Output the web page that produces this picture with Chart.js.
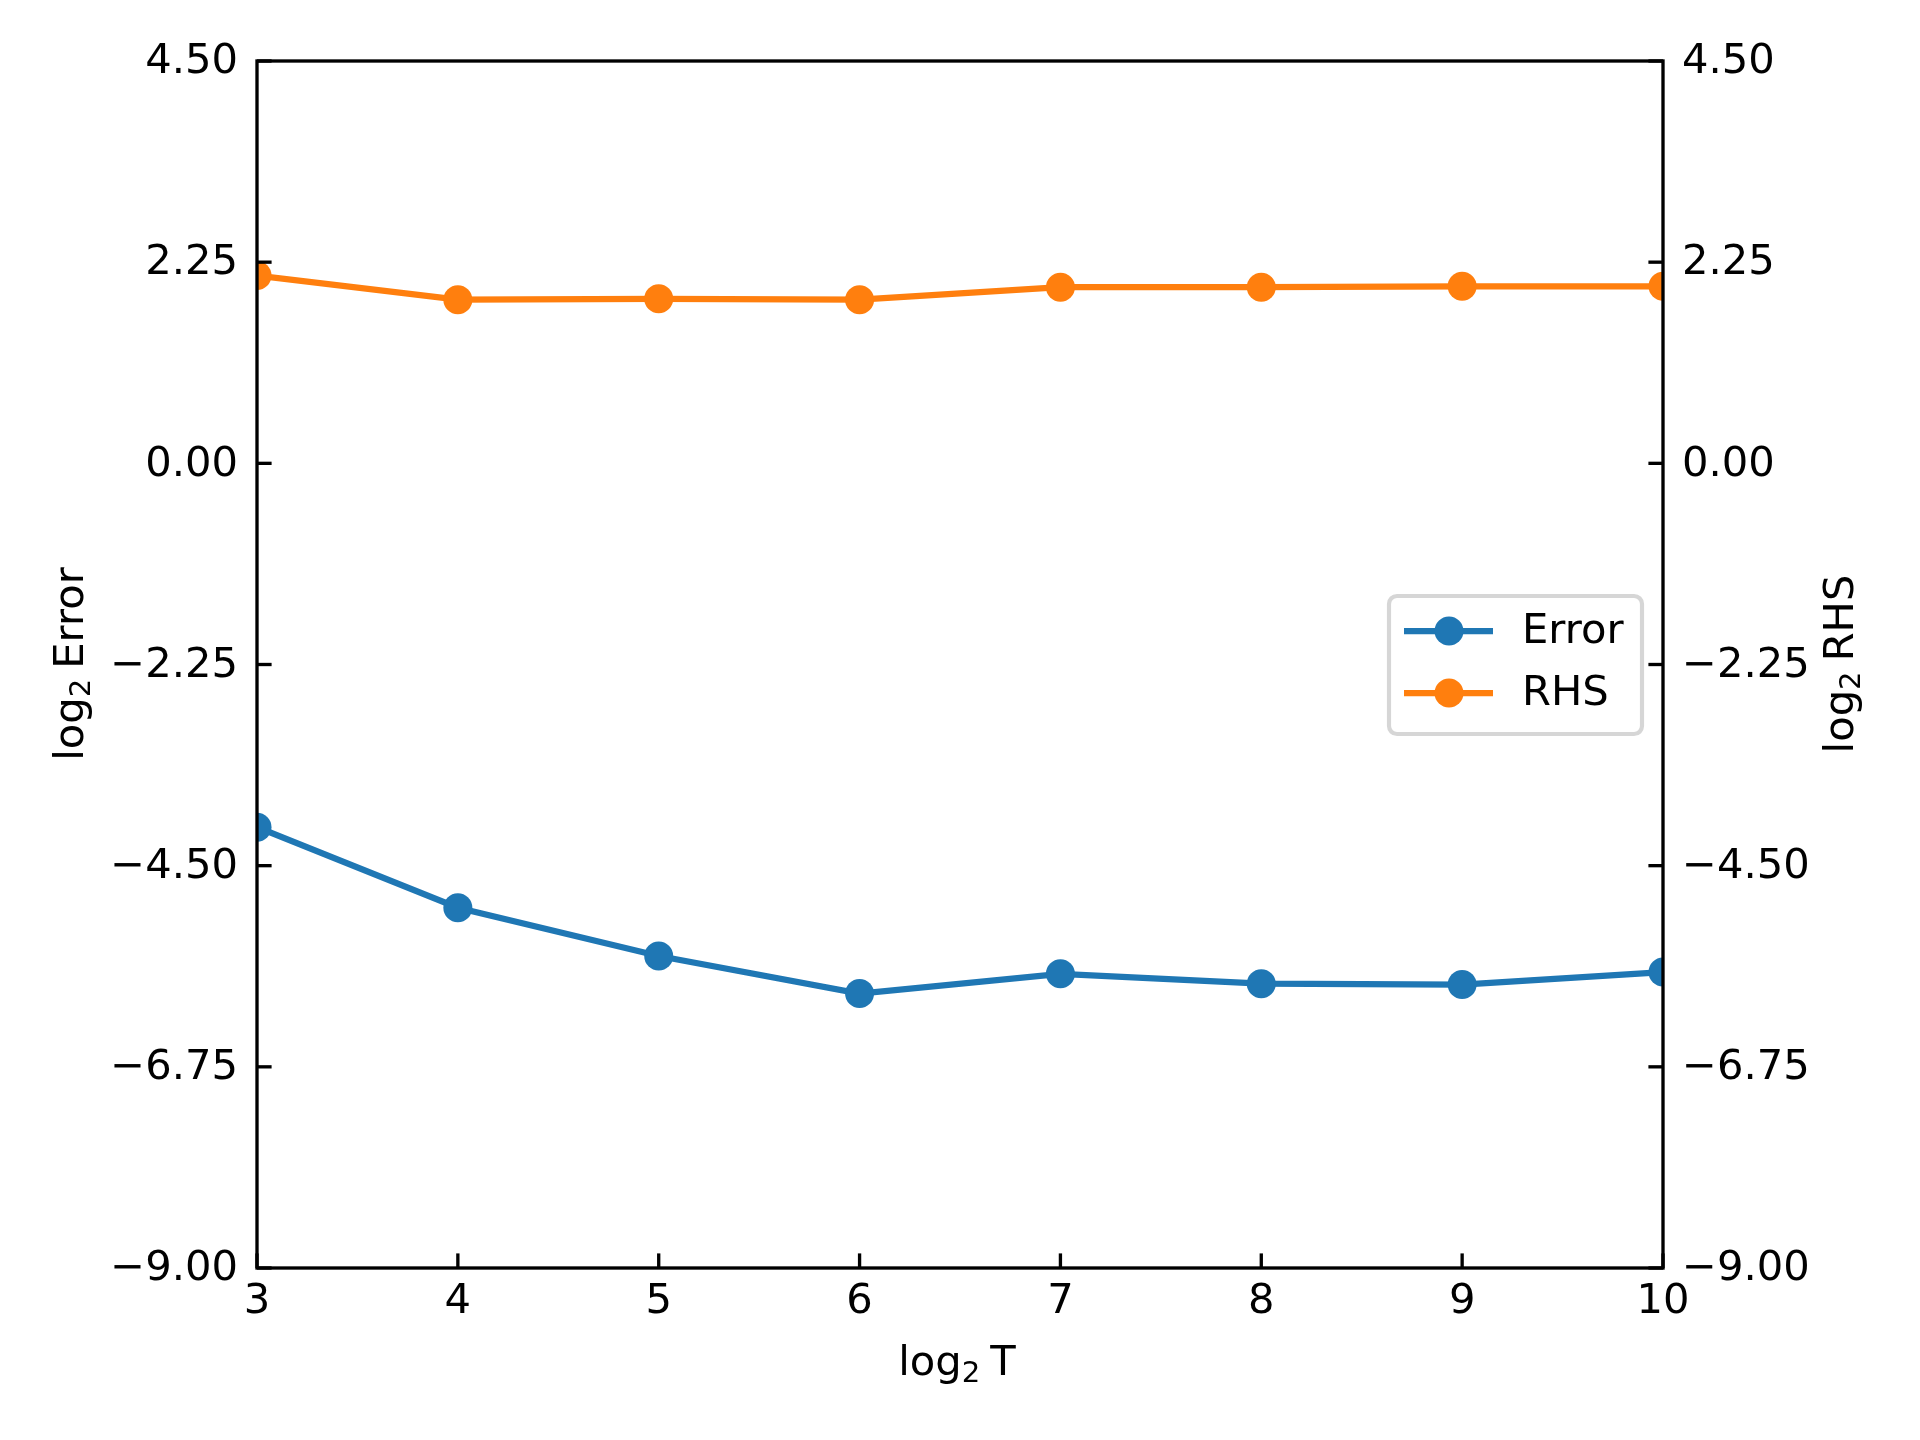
<!DOCTYPE html>
<html>
<head>
<meta charset="utf-8">
<script src="https://cdn.jsdelivr.net/npm/chart.js@4.4.1/dist/chart.umd.min.js"></script>
<style>
  html, body { margin: 0; padding: 0; background: #ffffff; }
  canvas { display: block; }
</style>
</head>
<body>
<canvas id="c" width="1920" height="1440"></canvas>
<script>
// ---- data ----
const xValues = [3, 4, 5, 6, 7, 8, 9, 10];
const errorValues = [-4.07, -4.97, -5.51, -5.93, -5.71, -5.82, -5.83, -5.69];
const rhsValues = [2.10, 1.83, 1.84, 1.83, 1.97, 1.97, 1.98, 1.98];
const yTickValues = [-9, -6.75, -4.5, -2.25, 0, 2.25, 4.5];
const xTickValues = [3, 4, 5, 6, 7, 8, 9, 10];
const seriesLabels = ['Error', 'RHS'];
const xTitleWord = 'T';
const yTitleWord = 'Error';
const y1TitleWord = 'RHS';

const BLUE = '#1f77b4';
const ORANGE = '#ff7f0e';
const FONT = 'DejaVu Sans';
const FS = 41.67;

function fmt(v) {
  const s = Math.abs(v).toFixed(2);
  return (v < 0 ? '\u2212' : '') + s;
}

const tickFont = { family: FONT, size: FS };

// draws "log₂ word" with a real lowered subscript, centred at (cx, baseline by)
function drawLog2(ctx, word, cx, by, rot) {
  ctx.save();
  ctx.translate(cx, by);
  ctx.rotate(rot);
  ctx.fillStyle = '#000';
  ctx.textBaseline = 'alphabetic';
  ctx.textAlign = 'left';
  const big = FS + 'px "' + FONT + '"';
  const small = (FS * 0.7) + 'px "' + FONT + '"';
  ctx.font = big;
  const w1 = ctx.measureText('log').width;
  const w3 = ctx.measureText(word).width;
  ctx.font = small;
  const w2 = ctx.measureText('2').width;
  const gap = 10;
  const total = w1 + w2 + gap + w3;
  let u = -total / 2;
  ctx.font = big;
  ctx.fillText('log', u, 0);
  u += w1;
  ctx.font = small;
  ctx.fillText('2', u, 7);
  u += w2 + gap;
  ctx.font = big;
  ctx.fillText(word, u, 0);
  ctx.restore();
}

const framePlugin = {
  id: 'frame',
  afterDraw(chart) {
    const { ctx, chartArea: a, scales } = chart;
    ctx.save();
    ctx.strokeStyle = '#000';
    ctx.lineWidth = 3.33;
    ctx.lineCap = 'butt';
    const tl = 14.6;
    for (const v of xTickValues) {
      const px = scales.x.getPixelForValue(v);
      ctx.beginPath(); ctx.moveTo(px, a.bottom); ctx.lineTo(px, a.bottom - tl); ctx.stroke();
    }
    for (const v of yTickValues) {
      const py = scales.y.getPixelForValue(v);
      ctx.beginPath(); ctx.moveTo(a.left, py); ctx.lineTo(a.left + tl, py); ctx.stroke();
      const py1 = scales.y1.getPixelForValue(v);
      ctx.beginPath(); ctx.moveTo(a.right, py1); ctx.lineTo(a.right - tl, py1); ctx.stroke();
    }
    ctx.lineJoin = 'miter';
    ctx.strokeRect(a.left, a.top, a.right - a.left, a.bottom - a.top);

    // axis titles
    const cy = (a.top + a.bottom) / 2 - 0.5;
    drawLog2(ctx, xTitleWord, (a.left + a.right) / 2 - 3, 1375, 0);
    drawLog2(ctx, yTitleWord, 83, cy, -Math.PI / 2);
    drawLog2(ctx, y1TitleWord, 1853, cy, -Math.PI / 2);

    // legend
    const lx = 1389, ly = 596, lw = 253, lh = 138, r = 8;
    ctx.beginPath();
    ctx.moveTo(lx + r, ly);
    ctx.lineTo(lx + lw - r, ly); ctx.arcTo(lx + lw, ly, lx + lw, ly + r, r);
    ctx.lineTo(lx + lw, ly + lh - r); ctx.arcTo(lx + lw, ly + lh, lx + lw - r, ly + lh, r);
    ctx.lineTo(lx + r, ly + lh); ctx.arcTo(lx, ly + lh, lx, ly + lh - r, r);
    ctx.lineTo(lx, ly + r); ctx.arcTo(lx, ly, lx + r, ly, r);
    ctx.closePath();
    ctx.fillStyle = 'rgba(255,255,255,0.8)';
    ctx.fill();
    ctx.strokeStyle = '#d6d6d6';
    ctx.lineWidth = 4.17;
    ctx.stroke();
    const rows = [631, 693];
    chart.data.datasets.forEach((ds, i) => {
      const ry = rows[i];
      ctx.strokeStyle = ds.borderColor;
      ctx.lineWidth = 6.25;
      ctx.beginPath(); ctx.moveTo(1404, ry); ctx.lineTo(1493, ry); ctx.stroke();
      ctx.fillStyle = ds.borderColor;
      ctx.beginPath(); ctx.arc(1449, ry, 14.5, 0, Math.PI * 2); ctx.fill();
      ctx.fillStyle = '#000';
      ctx.font = FS + 'px "' + FONT + '"';
      ctx.textAlign = 'left';
      ctx.textBaseline = 'middle';
      ctx.fillText(ds.label, 1522, ry + 1);
    });
    ctx.restore();
  }
};

new Chart(document.getElementById('c'), {
  type: 'line',
  data: {
    datasets: [
      {
        label: seriesLabels[0],
        data: xValues.map((x, i) => ({ x, y: errorValues[i] })),
        borderColor: BLUE, backgroundColor: BLUE,
        pointBackgroundColor: BLUE, pointBorderWidth: 0,
        pointRadius: 14.5, borderWidth: 6.25,
        yAxisID: 'y', clip: 0, tension: 0
      },
      {
        label: seriesLabels[1],
        data: xValues.map((x, i) => ({ x, y: rhsValues[i] })),
        borderColor: ORANGE, backgroundColor: ORANGE,
        pointBackgroundColor: ORANGE, pointBorderWidth: 0,
        pointRadius: 14.5, borderWidth: 6.25,
        yAxisID: 'y1', clip: 0, tension: 0
      }
    ]
  },
  options: {
    responsive: false,
    animation: false,
    devicePixelRatio: 1,
    layout: { padding: { top: 61, left: 0, right: 0, bottom: 0 } },
    plugins: { legend: { display: false }, tooltip: { enabled: false } },
    scales: {
      x: {
        type: 'linear', position: 'bottom', min: 3, max: 10,
        afterBuildTicks: s => { s.ticks = xTickValues.map(v => ({ value: v })); },
        afterFit: s => { s.height = 172; },
        grid: { display: false, drawTicks: false },
        border: { display: false },
        ticks: { color: '#000', font: tickFont, padding: 9, maxRotation: 0, autoSkip: false,
                 callback: v => String(v) }
      },
      y: {
        type: 'linear', position: 'left', min: -9, max: 4.5,
        afterBuildTicks: s => { s.ticks = yTickValues.map(v => ({ value: v })); },
        afterFit: s => { s.width = 257; },
        grid: { display: false, drawTicks: false },
        border: { display: false },
        ticks: { color: '#000', font: tickFont, padding: 19, autoSkip: false, labelOffset: 1.5,
                 callback: v => fmt(v) }
      },
      y1: {
        type: 'linear', position: 'right', min: -9, max: 4.5,
        afterBuildTicks: s => { s.ticks = yTickValues.map(v => ({ value: v })); },
        afterFit: s => { s.width = 257; },
        grid: { display: false, drawTicks: false },
        border: { display: false },
        ticks: { color: '#000', font: tickFont, padding: 19, autoSkip: false, labelOffset: 1.5,
                 callback: v => fmt(v) }
      }
    }
  },
  plugins: [framePlugin]
});
</script>
</body>
</html>
